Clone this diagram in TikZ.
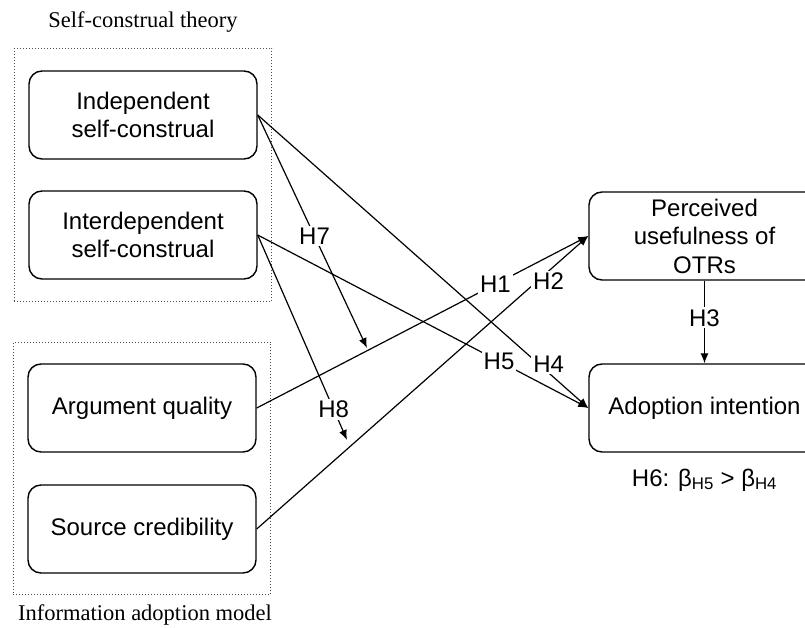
\documentclass[tikz,border=0pt]{standalone}
\usepackage{fontspec}
\setmainfont{Liberation Serif}
\setsansfont{Liberation Sans}
\usetikzlibrary{positioning,fit,arrows.meta}
\tikzstyle{block} = [rectangle, draw, line width=1.4pt, rounded corners=13pt,
    minimum width=228pt, minimum height=88pt, align=center, inner sep=1pt,
    font=\sffamily\fontsize{24}{28.5}\selectfont]
\tikzstyle{group} = [rectangle, draw=black!70, dotted, line width=1pt,
    inner xsep=14pt, inner ysep=22pt]
\tikzstyle{grouplabel} = [font=\fontsize{22.5}{26}\selectfont]
\tikzstyle{line} = [draw, line width=1.2pt, -{Latex[length=10pt,width=8pt]}]
\tikzstyle{hyp} = [fill=white, inner sep=2pt, font=\sffamily\fontsize{24}{28}\selectfont]

\begin{document}
\begin{tikzpicture}[x=1pt, y=-1pt, node distance=120pt]
    \useasboundingbox (0,0) rectangle (805,628);
    % Place nodes
    \node [block] (indep) at (143,115) {Independent\\self-construal};
    \node [block, below of=indep] (interdep) {Interdependent\\self-construal};
    \node [block] (argument) at (142,408) {Argument quality};
    \node [block, below of=argument, node distance=121pt] (source) {Source credibility};
    \node [block, minimum width=231pt] (useful) at (704.5,236) {Perceived\\usefulness of\\OTRs};
    \node [block, minimum width=231pt, below of=useful, node distance=172pt] (adopt) {Adoption intention};
    \node [hyp, below of=adopt, node distance=72pt] (h6) {H6: β\textsubscript{H5} > β\textsubscript{H4}};
    % Group boxes
    \node [group, fit=(indep)(interdep)] (selfbox) {};
    \node [group, fit=(argument)(source), inner ysep=21pt] (iambox) {};
    \node [grouplabel] (selflabel) at (143,22) {Self-construal theory};
    \node [grouplabel] (iamlabel) at (145,615) {Information adoption model};
    % Moderation targets
    \coordinate (h7tip) at (367,348);
    \coordinate (h8tip) at (347,440);
    % Draw edges
    \path [line] (argument.east) -- node [hyp, pos=0.72] {H1} (useful.west);
    \path [line] (source.east) -- node [hyp, pos=0.88, yshift=-10pt] {H2} (useful.west);
    \path [line] (indep.east) -- node [hyp, pos=0.88, yshift=9pt] {H4} (adopt.west);
    \path [line] (interdep.east) -- node [hyp, pos=0.73] {H5} (adopt.west);
    \path [line] (indep.east) -- node [hyp, pos=0.52] {H7} (h7tip);
    \path [line] (interdep.east) -- node [hyp, pos=0.85] {H8} (h8tip);
    \path [line] (useful) -- node [hyp, pos=0.45] {H3} (adopt);
\end{tikzpicture}
\end{document}
